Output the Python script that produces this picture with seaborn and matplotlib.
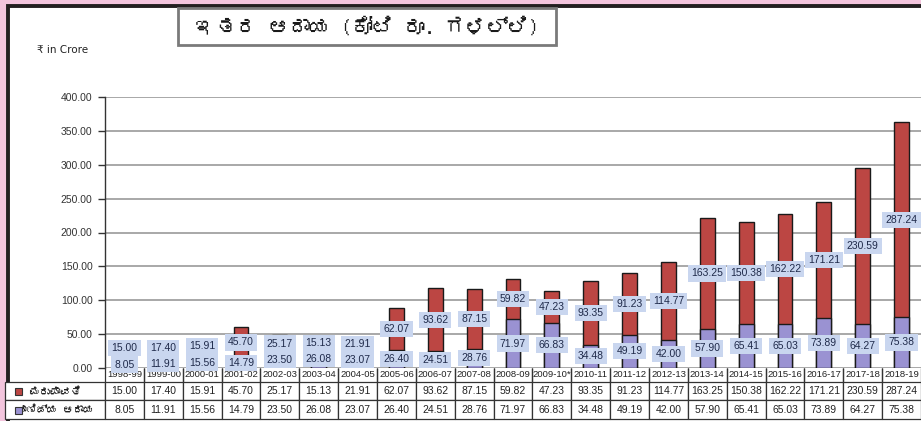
import matplotlib
matplotlib.use("Agg")
import matplotlib.pyplot as plt
import seaborn as sns
import pandas as pd
from matplotlib import font_manager
from matplotlib.ft2font import FT2Font
from matplotlib.patches import Rectangle

years = ["1998-99", "1999-00", "2000-01", "2001-02", "2002-03", "2003-04", "2004-05",
         "2005-06", "2006-07", "2007-08", "2008-09", "2009-10*", "2010-11", "2011-12",
         "2012-13", "2013-14", "2014-15", "2015-16", "2016-17", "2017-18", "2018-19"]
repayment = [15.00, 17.40, 15.91, 45.70, 25.17, 15.13, 21.91, 62.07, 93.62, 87.15, 59.82,
             47.23, 93.35, 91.23, 114.77, 163.25, 150.38, 162.22, 171.21, 230.59, 287.24]
commercial = [8.05, 11.91, 15.56, 14.79, 23.50, 26.08, 23.07, 26.40, 24.51, 28.76, 71.97,
              66.83, 34.48, 49.19, 42.00, 57.90, 65.41, 65.03, 73.89, 64.27, 75.38]
series_names = ["ಮರುಪಾವತಿ", "ವಾಣಿಜ್ಯ ಆದಾಯ"]
title_text = "ಇತರ ಆದಾಯ (ಕೋಟಿ ರೂ. ಗಳಲ್ಲಿ)"


def find_kannada_font():
    # look for any installed font that has Kannada glyphs
    for f in font_manager.fontManager.ttflist:
        try:
            cmap = FT2Font(f.fname).get_charmap()
        except Exception:
            continue
        if 0x0C87 in cmap and 0x0CB0 in cmap:
            return f.name
    return None


kn_font = find_kannada_font()
kn_fams = ([kn_font] if kn_font else []) + ["DejaVu Sans"]

sns.set_style("white")
plt.rcParams["font.family"] = ["Liberation Sans", "DejaVu Sans"]

RED = "#bc4643"
BLUE = "#9a92d2"
LABEL_BG = "#c9d6ef"

df = pd.DataFrame({"year": years, "repay": repayment, "comm": commercial})
df["total"] = df["repay"] + df["comm"]

fig = plt.figure(figsize=(9.21, 4.21), dpi=100)
fig.patch.set_facecolor("#f3c5dd")
frame = Rectangle((8 / 921, -0.02), 1.05, 1 - 5.5 / 421 + 0.02, transform=fig.transFigure,
                  facecolor="white", edgecolor="#231f20", linewidth=2.8, zorder=-10)
fig.add_artist(frame)

ax = fig.add_axes([105 / 921, 1 - 368 / 421, 816 / 921, 271 / 421], zorder=1)
ax.set_facecolor("white")

# stacked bars: total in red, commercial income drawn on top of it from zero
sns.barplot(data=df, x="year", y="total", color=RED, width=0.38, edgecolor="#1a1a1a",
            linewidth=1.0, saturation=1, ax=ax, zorder=3)
sns.barplot(data=df, x="year", y="comm", color=BLUE, width=0.38, edgecolor="#1a1a1a",
            linewidth=1.0, saturation=1, ax=ax, zorder=3)

ax.set_ylim(0, 400)
ax.set_xlim(-0.5, len(years) - 0.5)
ax.set_yticks(range(0, 401, 50))
ax.set_yticklabels([f"{v:.2f}" for v in range(0, 401, 50)], fontsize=7.5, color="#333333")
ax.yaxis.grid(True, color="#9a9a9a", linewidth=1.2, zorder=0)
ax.set_axisbelow(True)
ax.tick_params(axis="y", length=5, width=1, color="#333333", left=True, pad=4)
ax.set_xticks([])
ax.set_xlabel("")
ax.set_ylabel("")
for s in ["top", "right", "bottom"]:
    ax.spines[s].set_visible(False)
ax.spines["left"].set_color("#333333")
ax.spines["left"].set_linewidth(1.0)

box = dict(boxstyle="square,pad=0.3", facecolor=LABEL_BG, edgecolor="none")
for i, r in df.iterrows():
    yb = max(r["comm"] / 2, 5)
    yt = max(r["comm"] + r["repay"] / 2, yb + 24)
    ax.text(i, yb, f"{r['comm']:.2f}", ha="center", va="center", fontsize=7.5,
            color="#1f2a4a", bbox=box, zorder=5)
    ax.text(i, yt, f"{r['repay']:.2f}", ha="center", va="center", fontsize=7.5,
            color="#1f2a4a", bbox=box, zorder=5)

# data table under the chart
cell_text = [[""] + years,
             [series_names[0]] + [f"{v:.2f}" for v in repayment],
             [series_names[1]] + [f"{v:.2f}" for v in commercial]]
col_w = [100 / 916] + [1 / len(years) * 816 / 916] * len(years)
tbl = ax.table(cellText=cell_text, colWidths=col_w, cellLoc="center",
               bbox=[-100 / 816, -51 / 271, 916 / 816, 51 / 271])
tbl.auto_set_font_size(False)
tbl.set_fontsize(7.5)
for (r, c), cell in tbl.get_celld().items():
    cell.set_edgecolor("#333333")
    cell.set_linewidth(0.9)
    cell.get_text().set_color("#222222")
    if r == 0:
        cell.set_height(14)
        cell.visible_edges = "LR" if c > 0 else ""
        cell.get_text().set_fontsize(6.8)
    else:
        cell.set_height(19)
    if c == 0 and r > 0:
        cell.get_text().set_family(kn_fams)
        cell.get_text().set_ha("center")

for k, col in enumerate([RED, BLUE]):
    yc = -(14 + 19 * k + 9.5) / 271
    ax.add_patch(Rectangle((-90 / 816, yc - 3.5 / 271), 7 / 816, 7 / 271, transform=ax.transAxes,
                           facecolor=col, edgecolor="#333333", linewidth=0.8, clip_on=False, zorder=6))

fig.text(37 / 921, 1 - 50 / 421, "₹ in Crore", fontsize=7.5, color="#222222", va="center",
         family=["DejaVu Sans"])

fig.add_artist(Rectangle((178 / 921, 1 - 45 / 421), 378 / 921, 37 / 421, transform=fig.transFigure,
                         facecolor="white", edgecolor="#7a7a7a", linewidth=2, zorder=2))
fig.text(367 / 921, 1 - 27 / 421, title_text, fontsize=15, fontweight="bold", color="#1a1a1a",
         ha="center", va="center", family=kn_fams, zorder=3)

fig.savefig("out.png", dpi=100, facecolor=fig.get_facecolor())
